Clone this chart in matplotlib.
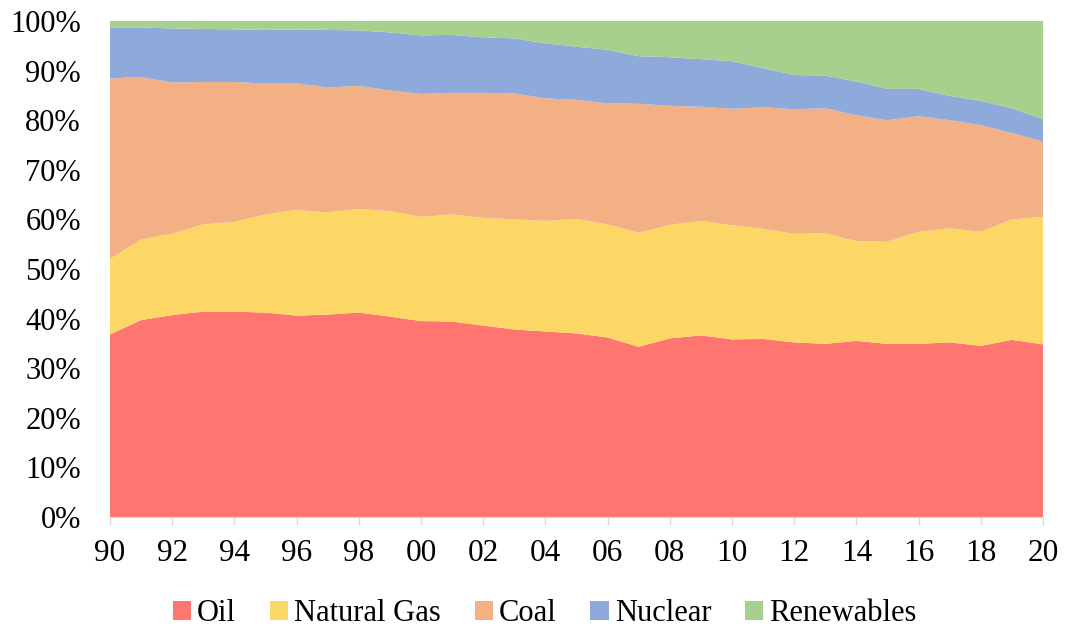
import matplotlib
matplotlib.use("Agg")
import matplotlib.pyplot as plt
from matplotlib.patches import Patch
import numpy as np

# Share of primary energy consumption by source, 1990-2020 (%)
years = list(range(1990, 2021))
oil = [36.8, 39.7, 40.7, 41.4, 41.4, 41.2, 40.6, 40.8, 41.2, 40.4, 39.5,
       39.4, 38.6, 37.8, 37.4, 37.0, 36.2, 34.3, 36.0, 36.6, 35.8,
       35.9, 35.2, 34.9, 35.5, 34.9, 34.9, 35.2, 34.5, 35.7, 34.8]
natural_gas = [15.2, 16.3, 16.4, 17.6, 18.1, 19.8, 21.3, 20.6, 20.9, 21.3, 21.0,
               21.6, 21.7, 22.2, 22.3, 23.1, 22.8, 23.0, 22.9, 23.1, 23.0,
               22.2, 21.9, 22.3, 20.1, 20.6, 22.6, 23.0, 23.0, 24.3, 25.7]
coal = [36.4, 32.7, 30.5, 28.7, 28.2, 26.4, 25.5, 25.2, 24.8, 24.3, 24.8,
        24.5, 25.2, 25.4, 24.7, 24.0, 24.4, 26.0, 24.0, 23.0, 23.5,
        24.5, 25.1, 25.2, 25.4, 24.5, 23.3, 21.8, 21.5, 17.4, 15.2]
nuclear = [10.3, 10.0, 10.9, 10.7, 10.6, 10.8, 10.9, 11.6, 11.2, 11.7, 11.8,
           11.7, 11.2, 11.1, 11.1, 10.7, 10.8, 9.6, 9.8, 9.6, 9.6,
           7.9, 6.9, 6.6, 6.8, 6.3, 5.5, 4.9, 4.9, 5.0, 4.5]
renewables = [1.3, 1.3, 1.5, 1.6, 1.7, 1.8, 1.7, 1.8, 1.9, 2.3, 2.9,
              2.8, 3.3, 3.5, 4.5, 5.2, 5.8, 7.1, 7.3, 7.7, 8.1,
              9.5, 10.9, 11.0, 12.2, 13.7, 13.7, 15.1, 16.1, 17.6, 19.8]
series_names = ["Oil", "Natural Gas", "Coal", "Nuclear", "Renewables"]
tick_years = list(range(1990, 2021, 2))
tick_labels = [f"{y % 100:02d}" for y in tick_years]

colors = ["#FE766F", "#FDD766", "#F3B084", "#8EAADB", "#A8D08D"]

plt.rcParams["font.family"] = ["Liberation Serif", "DejaVu Serif"]

fig = plt.figure(figsize=(10.66, 6.30), dpi=100)
ax = fig.add_axes([0.1032, 0.1794, 0.8752, 0.7873])

data = np.array([oil, natural_gas, coal, nuclear, renewables], dtype=float)
data = data / data.sum(axis=0) * 100.0
ax.stackplot(years, data, colors=colors, linewidth=0, zorder=2)

ax.set_xlim(1990, 2020)
ax.set_ylim(0, 100)
ax.axhline(100, color="#D9D9D9", linewidth=1.2, zorder=1)

ax.set_yticks(np.arange(0, 101, 10))
ax.set_yticklabels([f"{v}%" for v in range(0, 101, 10)])
ax.set_xticks(tick_years)
ax.set_xticklabels(tick_labels)
ax.tick_params(axis="y", length=0, pad=21, labelsize=22)
ax.tick_params(axis="x", direction="out", length=6, width=1.0, color="#D9D9D9",
               pad=10, labelsize=22.5)

for side in ["top", "right", "left"]:
    ax.spines[side].set_visible(False)
ax.spines["bottom"].set_color("#D9D9D9")

handles = [Patch(facecolor=c, edgecolor="none") for c in colors]
fig.legend(handles, series_names, loc="center", bbox_to_anchor=(0.511, 0.026),
           ncol=5, frameon=False, fontsize=22, handlelength=0.6, handleheight=0.6,
           handletextpad=0.2, columnspacing=1.1)

fig.savefig("out.png", dpi=100)
